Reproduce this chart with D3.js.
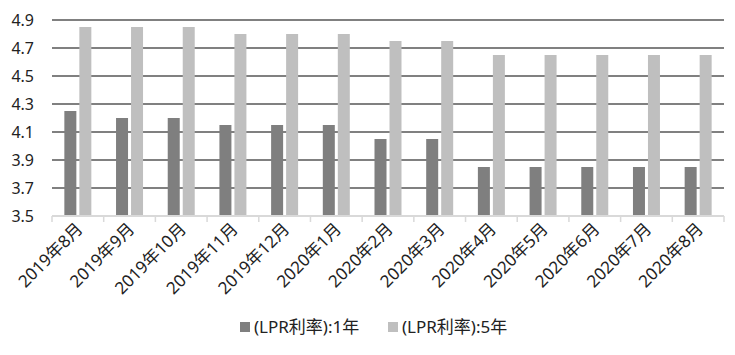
<html>

<head>
    <style>
        body { margin: 0; background: #fff; }
        text { font-family: "Noto Sans", "Noto Sans CJK SC", sans-serif; fill: #222; }
    </style>
</head>

<body>
    <svg id="chart"></svg>
</body>
<script src="https://cdn.jsdelivr.net/npm/d3@7"></script>
<script>
    let width = 735,
        height = 355;

    let months = ["2019年8月", "2019年9月", "2019年10月", "2019年11月", "2019年12月", "2020年1月",
        "2020年2月", "2020年3月", "2020年4月", "2020年5月", "2020年6月", "2020年7月", "2020年8月"]
    let lpr1y = [4.25, 4.20, 4.20, 4.15, 4.15, 4.15, 4.05, 4.05, 3.85, 3.85, 3.85, 3.85, 3.85]
    let lpr5y = [4.85, 4.85, 4.85, 4.80, 4.80, 4.80, 4.75, 4.75, 4.65, 4.65, 4.65, 4.65, 4.65]
    let seriesNames = ["(LPR利率):1年", "(LPR利率):5年"]
    let yTicks = [3.5, 3.7, 3.9, 4.1, 4.3, 4.5, 4.7, 4.9]

    let colors = ["#7f7f7f", "#bfbfbf"]
    let margin = { left: 52, right: 11, top: 20, bottom: 139 }

    let svg = d3.select("#chart").attr("width", width).attr("height", height)

    let x = d3.scaleBand().domain(months).range([margin.left, width - margin.right])
    let y = d3.scaleLinear().domain([3.5, 4.9]).range([height - margin.bottom, margin.top])

    // gridlines
    svg.append("g")
        .selectAll("line")
        .data(yTicks.slice(1))
        .enter()
        .append("line")
        .attr("x1", margin.left)
        .attr("x2", width - margin.right)
        .attr("y1", d => y(d))
        .attr("y2", d => y(d))
        .attr("stroke", "#808080")
        .attr("stroke-width", 2)

    // y labels
    svg.append("g")
        .selectAll("text")
        .data(yTicks)
        .enter()
        .append("text")
        .attr("x", 34)
        .attr("y", d => y(d) + 5.5)
        .attr("text-anchor", "end")
        .style("font-size", "16px")
        .text(d => d.toFixed(1))

    // bars
    let barW = 12, gap = 3
    let series = [lpr1y, lpr5y]
    series.forEach((vals, si) => {
        svg.append("g")
            .selectAll("rect")
            .data(vals)
            .enter()
            .append("rect")
            .attr("x", (d, i) => x(months[i]) + x.bandwidth() / 2 - barW - gap / 2 + si * (barW + gap))
            .attr("y", d => y(d))
            .attr("width", barW)
            .attr("height", d => y(3.5) - y(d))
            .attr("fill", colors[si])
    })

    // baseline + ticks
    let base = y(3.5)
    svg.append("line")
        .attr("x1", margin.left).attr("x2", width - margin.right)
        .attr("y1", base).attr("y2", base)
        .attr("stroke", "#d9d9d9").attr("stroke-width", 2)
    svg.append("g")
        .selectAll("line")
        .data(d3.range(months.length + 1))
        .enter()
        .append("line")
        .attr("x1", i => margin.left + i * x.step())
        .attr("x2", i => margin.left + i * x.step())
        .attr("y1", base)
        .attr("y2", base + 6)
        .attr("stroke", "#d9d9d9").attr("stroke-width", 1.5)

    // x labels
    svg.append("g")
        .selectAll("text")
        .data(months)
        .enter()
        .append("text")
        .attr("transform", d => `translate(${x(d) + x.bandwidth() / 2 + 6},${base + 14}) rotate(-45)`)
        .attr("text-anchor", "end")
        .style("font-size", "17px")
        .text(d => d)

    // legend
    let legend = svg.append("g")
    let lx = [240, 388]
    seriesNames.forEach((name, i) => {
        legend.append("rect")
            .attr("x", lx[i]).attr("y", 322)
            .attr("width", 10).attr("height", 10)
            .attr("fill", colors[i])
        legend.append("text")
            .attr("x", lx[i] + 14).attr("y", 333)
            .style("font-size", "17px")
            .text(name)
    })
</script>

</html>
